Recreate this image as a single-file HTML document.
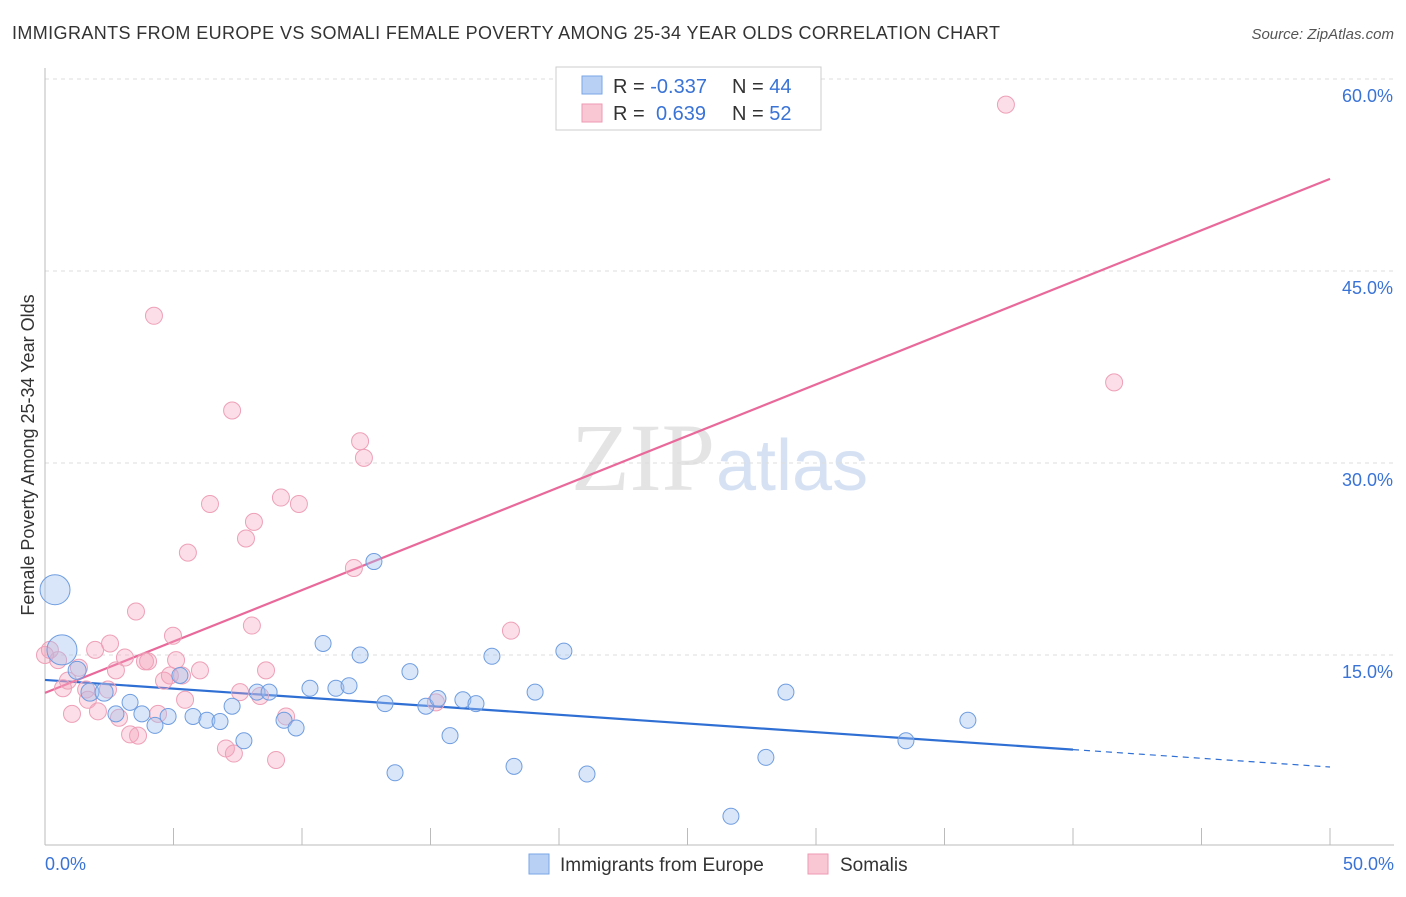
<!DOCTYPE html>
<html><head><meta charset="utf-8"><style>
body{margin:0;background:#fff;font-family:"Liberation Sans",sans-serif;}
</style></head><body>
<svg id="chart" width="1406" height="892" xmlns="http://www.w3.org/2000/svg">
<text x="12" y="39" font-size="18" fill="#333" textLength="988" lengthAdjust="spacing">IMMIGRANTS FROM EUROPE VS SOMALI FEMALE POVERTY AMONG 25-34 YEAR OLDS CORRELATION CHART</text>
<text x="1394" y="39" font-size="15" fill="#555" font-style="italic" text-anchor="end">Source: ZipAtlas.com</text>
<text x="715" y="490" font-size="96" fill="#e4e4e4" text-anchor="end" font-family="Liberation Serif,serif">ZIP</text>
<text x="716" y="490" font-size="72" fill="#d6e2f4">atlas</text>
<text transform="translate(34,455) rotate(-90)" font-size="18" fill="#333" text-anchor="middle">Female Poverty Among 25-34 Year Olds</text>
<g id="grid"></g><g id="axes"></g><g id="lines"></g><g id="pts"></g>
<g>
<rect x="556" y="67" width="265" height="63" fill="#fff" stroke="#ccc"/>
<rect x="582" y="76" width="20" height="18" fill="#b8d0f4" stroke="#7aa6e6"/>
<rect x="582" y="104" width="20" height="18" fill="#f9c6d4" stroke="#ee9ab3"/>
<text x="613" y="93" font-size="20" fill="#333">R = <tspan fill="#3a73d6">-0.337</tspan><tspan x="732">N = </tspan><tspan fill="#3a73d6">44</tspan></text>
<text x="613" y="120" font-size="20" fill="#333">R = <tspan x="656" fill="#3a73d6">0.639</tspan><tspan x="732">N = </tspan><tspan fill="#3a73d6">52</tspan></text>
</g>
<g>
<rect x="529" y="854" width="20" height="20" fill="#b8d0f4" stroke="#7aa6e6"/>
<text x="560" y="871" font-size="19" fill="#333">Immigrants from Europe</text>
<rect x="808" y="854" width="20" height="20" fill="#f9c6d4" stroke="#ee9ab3"/>
<text x="840" y="871" font-size="19" fill="#333">Somalis</text>
</g>
</svg>
<script>
const blueX=[0.39,0.66,1.25,1.75,2.30,2.76,3.31,3.77,4.28,4.79,5.25,5.76,6.30,6.81,7.28,7.74,8.25,8.72,9.30,9.77,10.31,10.82,11.32,11.83,12.26,12.80,13.23,13.62,14.20,14.82,15.29,15.76,16.26,16.77,17.39,18.25,19.07,20.19,21.09,26.69,28.05,28.83,33.50,35.91];
const blueY=[20.1,15.4,13.8,12.1,12.1,10.4,11.3,10.4,9.5,10.2,13.4,10.2,9.9,9.8,11.0,8.3,12.1,12.1,9.9,9.3,12.4,15.9,12.4,12.6,15.0,22.3,11.2,5.8,13.7,11.0,11.6,8.7,11.5,11.2,14.9,6.3,12.1,15.3,5.7,2.4,7.0,12.1,8.3,9.9];
const blueR=[16,16,10,10,10,9,9,9,9,9,9,9,9,9,9,9,9,9,9,9,9,9,9,9,9,9,9,9,9,9,9,9,9,9,9,9,9,9,9,9,9,9,9,9];
const pinkX=[0,0.19,0.51,0.70,0.89,1.05,1.32,1.60,1.67,1.95,2.06,2.45,2.53,2.76,2.88,3.11,3.31,3.54,3.62,3.89,4.01,4.24,4.40,4.63,4.86,4.98,5.10,5.33,5.45,5.56,6.03,6.42,7.04,7.28,7.35,7.59,7.82,8.05,8.13,8.37,8.60,8.99,9.18,9.38,9.88,12.02,12.26,12.41,15.21,18.13,37.39,41.60];
const pinkY=[15.0,15.4,14.6,12.4,13.0,10.4,14.0,12.3,11.5,15.4,10.6,12.3,15.9,13.8,10.1,14.8,8.8,18.4,8.7,14.5,14.5,41.5,10.4,13.0,13.4,16.5,14.6,13.4,11.5,23.0,13.8,26.8,7.7,34.1,7.3,12.1,24.1,17.3,25.4,11.8,13.8,6.8,27.3,10.2,26.8,21.8,31.7,30.4,11.3,16.9,58.0,36.3];
const yTicks=[15,30,45,60];
const yTickLabels=["15.0%","30.0%","45.0%","60.0%"];
const xTickLabels=["0.0%","50.0%"];
const blueFit=[13.05,6.25];
const pinkFit=[12.04,52.2];
const X=v=>45+v*25.7, Y=v=>847-v*12.8;
const NS="http://www.w3.org/2000/svg";
function mk(tag,attrs,parent){const e=document.createElementNS(NS,tag);for(const k in attrs)e.setAttribute(k,attrs[k]);document.getElementById(parent).appendChild(e);return e;}
yTicks.forEach((t,i)=>{
 const g=mk('line',{x1:45,x2:1394,y1:Y(t),y2:Y(t),stroke:'#ddd','stroke-dasharray':'4,4'},'grid');
 
 
 const l=mk('text',{x:1393,y:Y(t)+23,'font-size':18,fill:'#3a73d6','text-anchor':'end'},'grid');
 l.textContent=yTickLabels[i];
 
 
});
const ax=mk('line',{x1:45,x2:1394,y1:845,y2:845,stroke:'#bbb'},'axes');


const ay=mk('line',{x1:45,x2:45,y1:68,y2:845,stroke:'#bbb'},'axes');


for(let i=1;i<=10;i++){
 const t=mk('line',{x1:X(i*5),x2:X(i*5),y1:828,y2:845,stroke:'#bbb'},'axes');
 
 
}
[[0,'start',45],[50,'end',1394]].forEach((d,i)=>{
 const t=mk('text',{x:d[2],y:870,'font-size':18,fill:'#3a73d6','text-anchor':d[1]},'axes');
 t.textContent=xTickLabels[i];
 
 
});
pinkX.forEach((x,i)=>{
 const c=mk('circle',{cx:X(x),cy:Y(pinkY[i]),r:8.5,fill:'rgba(244,160,185,0.35)',stroke:'#eea0b8','stroke-width':1},'pts');
 
 
});
blueX.forEach((x,i)=>{
 const c=mk('circle',{cx:X(x),cy:Y(blueY[i]),r:blueR[i]-1,fill:'rgba(160,192,240,0.4)',stroke:'#6f9de0','stroke-width':1},'pts');
 
 
});
const bAt=v=>blueFit[0]+(blueFit[1]-blueFit[0])*v/50;
const b1=mk('line',{x1:X(0),y1:Y(bAt(0)),x2:X(40),y2:Y(bAt(40)),stroke:'#2f6fd4','stroke-width':2.2},'lines');


const b2=mk('line',{x1:X(40),y1:Y(bAt(40)),x2:X(50),y2:Y(bAt(50)),stroke:'#2f6fd4','stroke-width':1.2,'stroke-dasharray':'6,5'},'lines');


const p1=mk('line',{x1:X(0),y1:Y(pinkFit[0]),x2:X(50),y2:Y(pinkFit[1]),stroke:'#e8699a','stroke-width':2.2},'lines');


</script>
</body></html>
